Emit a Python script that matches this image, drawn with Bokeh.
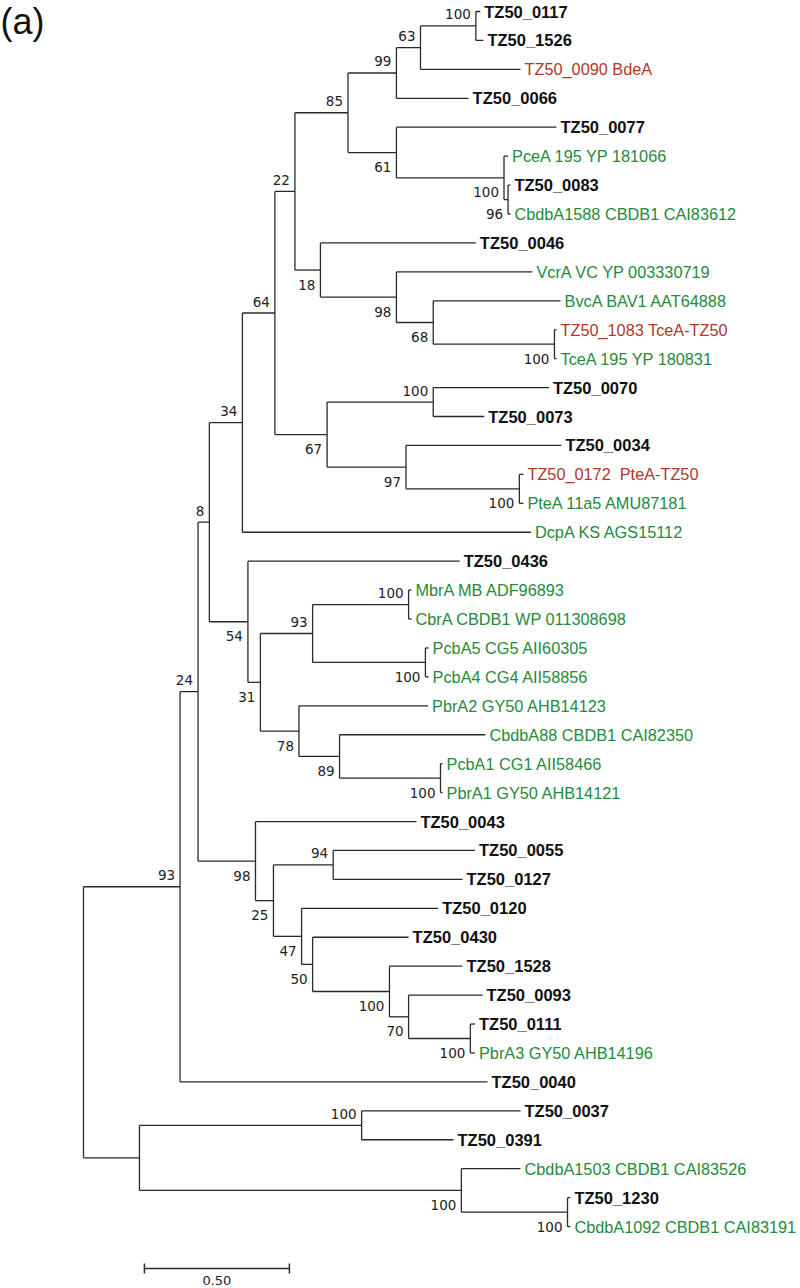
from bokeh.plotting import figure
from bokeh.models import Range1d, ColumnDataSource, Label
from bokeh.core.properties import value
from bokeh.embed import file_html
from bokeh.resources import INLINE

# ---------------- data: internal nodes (id, parent, cumulative distance, bootstrap) ----
node_ids = ["root", "n93", "n24", "n8", "n34", "n64", "n22", "n85", "n99", "n63",
            "n100a", "n61", "n100b", "n96", "n18", "n98a", "n68", "n100c", "n67",
            "n100d", "n97", "n100e", "n54", "n31", "n93b", "n100f", "n100g", "n78",
            "n89", "n100h", "n98b", "n25", "n94", "n47", "n50", "n100i", "n70",
            "n100j", "nout", "n100k", "n100l", "n100m"]
node_parents = [None, "root", "n93", "n24", "n8", "n34", "n64", "n22", "n85", "n99",
                "n63", "n85", "n61", "n100b", "n22", "n18", "n98a", "n68", "n64",
                "n67", "n67", "n97", "n8", "n54", "n31", "n93b", "n93b", "n31",
                "n78", "n89", "n24", "n98b", "n25", "n25", "n47", "n50", "n100i",
                "n70", "root", "nout", "nout", "n100l"]
node_depths = [0.000, 0.333, 0.395, 0.434, 0.548, 0.660, 0.729, 0.912, 1.079, 1.162,
               1.353, 1.079, 1.450, 1.464, 0.817, 1.079, 1.206, 1.624, 0.840,
               1.206, 1.112, 1.503, 0.567, 0.610, 0.790, 1.121, 1.179, 0.743,
               0.883, 1.231, 0.593, 0.655, 0.861, 0.752, 0.790, 1.055, 1.121,
               1.334, 0.193, 0.959, 1.303, 1.669]
node_support = [None, 93, 24, 8, 34, 64, 22, 85, 99, 63,
                100, 61, 100, 96, 18, 98, 68, 100, 67,
                100, 97, 100, 54, 31, 93, 100, 100, 78,
                89, 100, 98, 25, 94, 47, 50, 100, 70,
                100, None, 100, 100, 100]

# ---------------- data: leaves in display order ----------------
leaf_names = ["TZ50_0117", "TZ50_1526", "TZ50_0090 BdeA", "TZ50_0066", "TZ50_0077",
              "PceA 195 YP 181066", "TZ50_0083", "CbdbA1588 CBDB1 CAI83612",
              "TZ50_0046", "VcrA VC YP 003330719", "BvcA BAV1 AAT64888",
              "TZ50_1083 TceA-TZ50", "TceA 195 YP 180831", "TZ50_0070", "TZ50_0073",
              "TZ50_0034", "TZ50_0172\u00a0 PteA-TZ50", "PteA 11a5 AMU87181",
              "DcpA KS AGS15112", "TZ50_0436", "MbrA MB ADF96893",
              "CbrA CBDB1 WP 011308698", "PcbA5 CG5 AII60305", "PcbA4 CG4 AII58856",
              "PbrA2 GY50 AHB14123", "CbdbA88 CBDB1 CAI82350", "PcbA1 CG1 AII58466",
              "PbrA1 GY50 AHB14121", "TZ50_0043", "TZ50_0055", "TZ50_0127",
              "TZ50_0120", "TZ50_0430", "TZ50_1528", "TZ50_0093", "TZ50_0111",
              "PbrA3 GY50 AHB14196", "TZ50_0040", "TZ50_0037", "TZ50_0391",
              "CbdbA1503 CBDB1 CAI83526", "TZ50_1230", "CbdbA1092 CBDB1 CAI83191"]
leaf_parents = ["n100a", "n100a", "n63", "n99", "n61", "n100b", "n96", "n96",
                "n18", "n98a", "n68", "n100c", "n100c", "n100d", "n100d", "n97",
                "n100e", "n100e", "n34", "n54", "n100f", "n100f", "n100g", "n100g",
                "n78", "n89", "n100h", "n100h", "n98b", "n94", "n94", "n47", "n50",
                "n100i", "n70", "n100j", "n100j", "n93", "n100k", "n100k", "n100l",
                "n100m", "n100m"]
leaf_depths = [1.368, 1.379, 1.507, 1.328, 1.631, 1.464, 1.472, 1.472,
               1.353, 1.548, 1.645, 1.631, 1.631, 1.605, 1.382, 1.648,
               1.517, 1.517, 1.543, 1.297, 1.131, 1.131, 1.190, 1.190,
               1.188, 1.386, 1.238, 1.238, 1.148, 1.350, 1.307, 1.223, 1.121,
               1.307, 1.376, 1.350, 1.350, 1.393, 1.507, 1.276, 1.507,
               1.679, 1.679]
# k = TZ50 gene, r = TZ50 gene with assigned function, g = reference RDase
leaf_groups = ["k", "k", "r", "k", "k", "g", "k", "g",
               "k", "g", "g", "r", "g", "k", "k", "k",
               "r", "g", "g", "k", "g", "g", "g", "g",
               "g", "g", "g", "g", "k", "k", "k", "k", "k",
               "k", "k", "k", "g", "k", "k", "k", "g",
               "k", "g"]

scale_bar_length = 0.50
scale_bar_label = "0.50"
panel_label = "(a)"

# ---------------- layout parameters ----------------
W, H = 800, 1288
PX_PER_UNIT = 290.0
ROOT_PX = 83.0          # root x inside figure
LEAF_PX = 28.93         # vertical spacing between leaves
TOP_PX = 11.0           # first leaf y inside figure

group_color = {"k": "#111111", "r": "#b0372b", "g": "#258a3c"}
LINE_COLOR = "#2a2a2a"

# ---------------- tree geometry ----------------
depth = dict(zip(node_ids, node_depths))
parent = dict(zip(node_ids, node_parents))
support = dict(zip(node_ids, node_support))
children = {n: [] for n in node_ids}
ypos = {}
for i, (nm, par, d) in enumerate(zip(leaf_names, leaf_parents, leaf_depths)):
    key = ("leaf", i)
    depth[key] = d
    parent[key] = par
    ypos[key] = float(i)
for nid, par in zip(node_ids, node_parents):
    if par is not None:
        children[par].append(nid)
for i, par in enumerate(leaf_parents):
    children[par].append(("leaf", i))


def get_y(n):
    if n in ypos:
        return ypos[n]
    ys = [get_y(c) for c in children[n]]
    ypos[n] = (min(ys) + max(ys)) / 2.0
    return ypos[n]


get_y("root")

hx0, hx1, hy = [], [], []
for n, par in parent.items():
    if par is None:
        continue
    hx0.append(depth[par]); hx1.append(depth[n]); hy.append(ypos[n])
vx, vy0, vy1 = [], [], []
for n in node_ids:
    ys = [ypos[c] for c in children[n]]
    vx.append(depth[n]); vy0.append(min(ys)); vy1.append(max(ys))

# bootstrap labels
above = 11.5 / LEAF_PX
below = 14.5 / LEAF_PX
bx, by, bt = [], [], []
for n in node_ids:
    if support[n] is None or parent[n] is None:
        continue
    bx.append(depth[n])
    if ypos[n] < ypos[parent[n]]:
        by.append(ypos[n] - above)
    else:
        by.append(ypos[n] + below)
    bt.append(str(support[n]))

# ---------------- figure ----------------
x0 = -ROOT_PX / PX_PER_UNIT
x1 = x0 + W / PX_PER_UNIT
ytop = -TOP_PX / LEAF_PX
ybot = ytop + H / LEAF_PX

p = figure(width=W, height=H, x_range=Range1d(x0, x1), y_range=Range1d(ybot, ytop),
           toolbar_location=None, output_backend="svg", min_border=0,
           x_axis_location=None, y_axis_location=None)
p.grid.visible = False
p.outline_line_color = None
p.background_fill_color = "white"
p.border_fill_color = "white"

p.segment(x0=hx0, y0=hy, x1=hx1, y1=hy, line_color=LINE_COLOR, line_width=1.3)
p.segment(x0=vx, y0=vy0, x1=vx, y1=vy1, line_color=LINE_COLOR, line_width=1.3)

p.text(x=bx, y=by, text=bt, text_align="right", text_baseline="middle", x_offset=-5,
       text_font=value("DejaVu Sans"), text_font_size="13.5px", text_color="#222222")

lx = [leaf_depths[i] for i in range(len(leaf_names))]
src_k = ColumnDataSource(dict(
    x=[lx[i] for i in range(len(leaf_names)) if leaf_groups[i] == "k"],
    y=[float(i) for i in range(len(leaf_names)) if leaf_groups[i] == "k"],
    t=[leaf_names[i] for i in range(len(leaf_names)) if leaf_groups[i] == "k"]))
src_c = ColumnDataSource(dict(
    x=[lx[i] for i in range(len(leaf_names)) if leaf_groups[i] != "k"],
    y=[float(i) for i in range(len(leaf_names)) if leaf_groups[i] != "k"],
    t=[leaf_names[i] for i in range(len(leaf_names)) if leaf_groups[i] != "k"],
    c=[group_color[leaf_groups[i]] for i in range(len(leaf_names)) if leaf_groups[i] != "k"]))
p.text(x="x", y="y", text="t", source=src_k, x_offset=4, text_baseline="middle",
       text_font=value("Liberation Sans"), text_font_style="bold",
       text_font_size="16.5px", text_color=group_color["k"])
p.text(x="x", y="y", text="t", source=src_c, x_offset=4, text_baseline="middle",
       text_font=value("Liberation Sans"), text_font_size="16.3px", text_color="c")

# scale bar
sb_x = 0.21
sb_y = len(leaf_names) - 1 + 1.45
tick = 5.0 / LEAF_PX
p.segment(x0=[sb_x], y0=[sb_y], x1=[sb_x + scale_bar_length], y1=[sb_y],
          line_color=LINE_COLOR, line_width=1.5)
p.segment(x0=[sb_x, sb_x + scale_bar_length], y0=[sb_y - tick, sb_y - tick],
          x1=[sb_x, sb_x + scale_bar_length], y1=[sb_y + tick, sb_y + tick],
          line_color=LINE_COLOR, line_width=1.5)
p.text(x=[sb_x + scale_bar_length / 2], y=[sb_y + 12.0 / LEAF_PX], text=[scale_bar_label],
       text_align="center", text_baseline="middle", text_font=value("DejaVu Sans"),
       text_font_size="13px", text_color="#222222")

p.add_layout(Label(x=0, y=H, x_units="screen", y_units="screen", text=panel_label,
                   text_font="Liberation Sans", text_font_size="36px",
                   text_baseline="top", text_align="left", text_color="#111111"))

open("out.html", "w").write(file_html(p, INLINE))
